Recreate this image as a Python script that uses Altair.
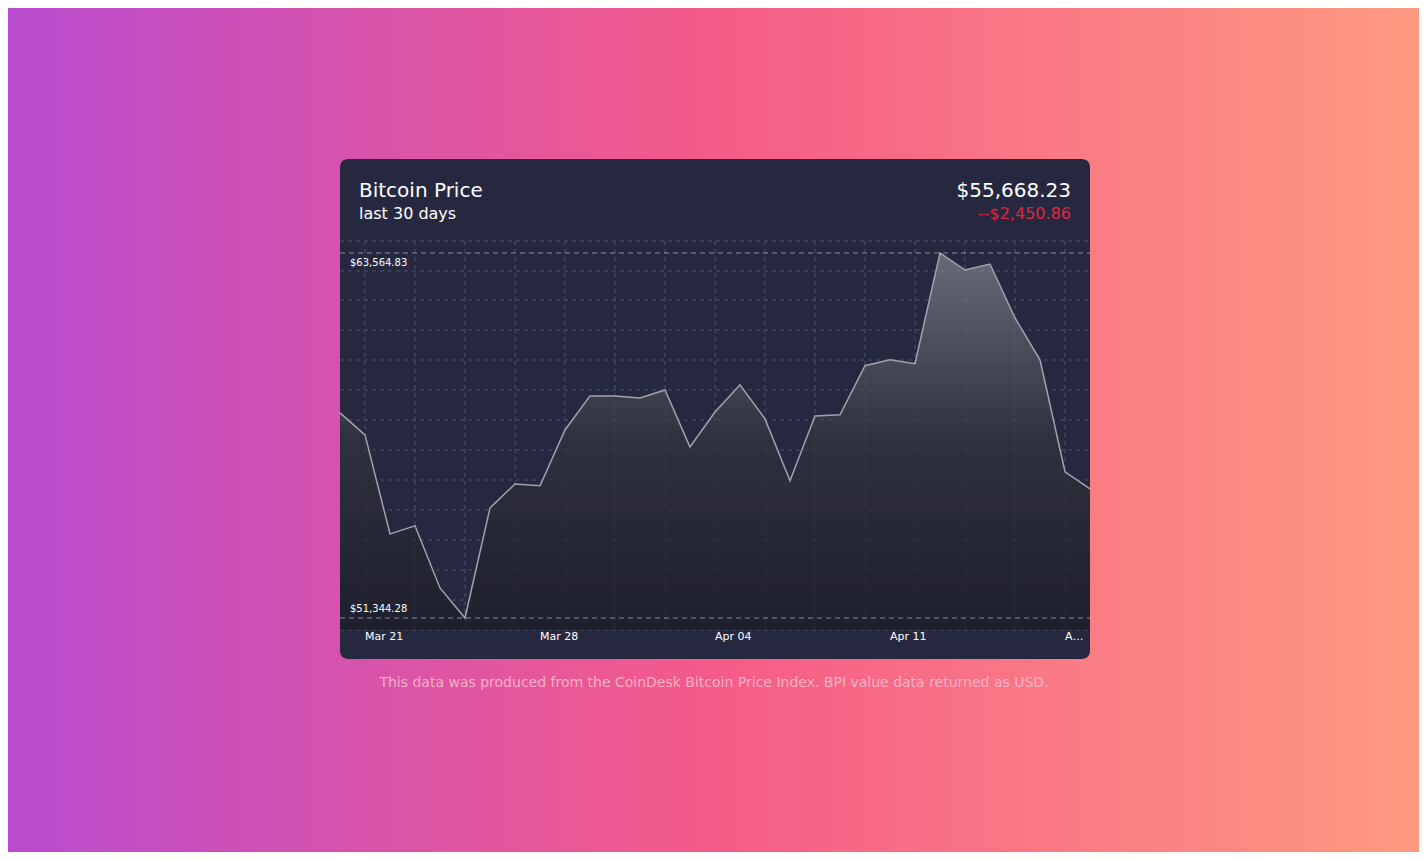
import altair as alt
import pandas as pd

# daily closing prices, Mar 20 .. Apr 19
dates = pd.date_range("2021-03-20", "2021-04-19", freq="D")
prices = [
    58210, 57475, 54160, 54430, 52350, 51344.28, 55030, 55830, 55770, 57640,
    58780, 58780, 58710, 58980, 57070, 58240, 59150, 58010, 55940, 58110,
    58150, 59790, 59990, 59860, 63564.83, 62995, 63195, 61390, 59990, 56240,
    55668.23,
]
grid_days = pd.date_range("2021-03-21", "2021-04-19", freq="2D")
grid_py = [233, 263, 292, 322, 352, 382, 412, 442, 472, 502, 532, 562, 592, 622]
tick_days = pd.to_datetime(["2021-03-21", "2021-03-28", "2021-04-04", "2021-04-11", "2021-04-18"])
tick_labels = ["Mar 21", "Mar 28", "Apr 04", "Apr 11", "Apr 18"]

lo, hi = min(prices), max(prices)
W, H = 1411, 844
FONT = "DejaVu Sans"

y_top, y_bot = 245, 610
base = lo - (622 - y_bot) * (hi - lo) / (y_bot - y_top)  # bottom of the plot strip
prices_df = pd.DataFrame({"date": dates, "price": prices, "base": base})

x_sc = alt.Scale(domain=[dates[0].isoformat(), dates[-1].isoformat()], range=[332, 1082])
y_sc = alt.Scale(domain=[lo, hi], range=[y_bot, y_top], zero=False, nice=False)

one = pd.DataFrame({"a": [0]})

page = alt.Chart(one).mark_rect(
    color=alt.Gradient(
        gradient="linear", x1=0, x2=1, y1=0, y2=0,
        stops=[
            alt.GradientStop(offset=0, color="#b94bcf"),
            alt.GradientStop(offset=0.5, color="#f55b88"),
            alt.GradientStop(offset=1, color="#fe9a80"),
        ],
    )
).encode(x=alt.value(0), x2=alt.value(W), y=alt.value(0), y2=alt.value(H))

card = alt.Chart(one).mark_rect(
    color="#262840", cornerRadius=8
).encode(x=alt.value(332), x2=alt.value(1082), y=alt.value(151), y2=alt.value(651))

hgrid = alt.Chart(pd.DataFrame({"py": grid_py})).mark_rule(
    color="#4e5066", strokeDash=[4, 4], strokeWidth=1
).encode(y=alt.Y("py:Q", scale=None), x=alt.value(332), x2=alt.value(1082))

vgrid = alt.Chart(pd.DataFrame({"d": grid_days})).mark_rule(
    color="#4e5066", strokeDash=[4, 4], strokeWidth=1
).encode(x=alt.X("d:T", scale=x_sc), y=alt.value(233), y2=alt.value(622))

area = alt.Chart(prices_df).mark_area(
    line={"color": "#a3a3ad", "strokeWidth": 1.5},
    color=alt.Gradient(
        gradient="linear", x1=0, x2=0, y1=0, y2=1,
        stops=[
            alt.GradientStop(offset=0, color="#85858e"),
            alt.GradientStop(offset=0.5, color="#33333d"),
            alt.GradientStop(offset=1, color="#1b1b25"),
        ],
    ),
).encode(
    x=alt.X("date:T", scale=x_sc),
    y=alt.Y("price:Q", scale=y_sc),
    y2="base:Q",
)

bounds = pd.DataFrame({"price": [lo, hi], "label": [f"${lo:,.2f}", f"${hi:,.2f}"]})
bound_rules = alt.Chart(bounds).mark_rule(
    color="#8a8c9c", strokeDash=[5, 4], strokeWidth=1.2
).encode(y=alt.Y("price:Q", scale=y_sc), x=alt.value(332), x2=alt.value(1082))
lo_text = alt.Chart(bounds.iloc[[0]]).mark_text(
    align="left", baseline="bottom", dy=-4, font=FONT, fontSize=10, color="white"
).encode(y=alt.Y("price:Q", scale=y_sc), x=alt.value(342), text="label:N")
hi_text = alt.Chart(bounds.iloc[[1]]).mark_text(
    align="left", baseline="top", dy=5, font=FONT, fontSize=10, color="white"
).encode(y=alt.Y("price:Q", scale=y_sc), x=alt.value(342), text="label:N")

tick_df = pd.DataFrame({"d": tick_days, "t": tick_labels})
ticks = alt.Chart(tick_df.iloc[:-1]).mark_text(
    align="left", baseline="middle", font=FONT, fontSize=11, color="white"
).encode(x=alt.X("d:T", scale=x_sc), y=alt.value(629), text="t:N")
# last label is cut by the card edge
last_tick = alt.Chart(tick_df.iloc[-1:]).mark_text(
    align="left", baseline="middle", font=FONT, fontSize=11, color="white",
    limit=25, ellipsis=""
).encode(x=alt.X("d:T", scale=x_sc), y=alt.value(629), text="t:N")


def label(text, x, y, size, color, align="left"):
    return alt.Chart(pd.DataFrame({"t": [text]})).mark_text(
        align=align, baseline="alphabetic", font=FONT, fontSize=size, color=color
    ).encode(x=alt.value(x), y=alt.value(y), text="t:N")


chart = alt.layer(
    page,
    card,
    hgrid,
    vgrid,
    area,
    bound_rules,
    lo_text,
    hi_text,
    ticks,
    last_tick,
    label("Bitcoin Price", 351, 189, 20, "white"),
    label("last 30 days", 351, 211, 16, "white"),
    label("$55,668.23", 1063, 189, 20, "white", "right"),
    label("--$2,450.86", 1063, 211, 16, "#e3243f", "right"),
    label("This data was produced from the CoinDesk Bitcoin Price Index. BPI value data returned as USD.",
          706, 679, 14, "#f7b0c8", "center"),
).properties(
    width=W, height=H, padding=0, autosize="none", background="#e0548f"
).configure_view(stroke=None)

chart.save("out.html", embed_options={"renderer": "svg", "actions": False})
